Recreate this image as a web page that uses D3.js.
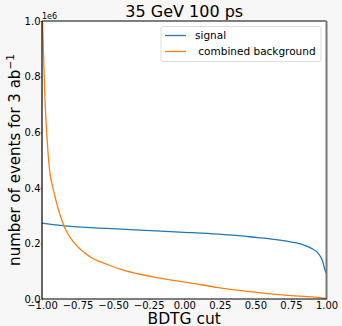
<!DOCTYPE html>
<html lang="en">
<head>
<meta charset="UTF-8">
<title>35 GeV 100 ps</title>
<script src="https://d3js.org/d3.v7.min.js"></script>
<style>
  body { margin: 0; background: #f7f7f7; }
  svg { display: block; font-family: "DejaVu Sans", sans-serif; }
</style>
</head>
<body>
<div id="chart"></div>
<script>
// BDTG cut values and event counts (x 1e6)
const signalX = [-1.0, -0.838, -0.545, -0.311, 0.0, 0.24, 0.474, 0.708, 0.825, 0.895, 0.942, 0.97, 0.989, 1.0];
const signalY = [0.273, 0.263, 0.254, 0.248, 0.240, 0.233, 0.223, 0.209, 0.197, 0.182, 0.164, 0.140, 0.105, 0.092];

const bkgX = [-0.996, -0.986, -0.979, -0.967, -0.95, -0.919, -0.9, -0.873, -0.838, -0.78, -0.663, -0.545, -0.428, -0.311, -0.194, -0.076, 0.04, 0.24, 0.474, 0.708, 0.989, 1.0];
const bkgY = [1.0, 0.82, 0.716, 0.6, 0.48, 0.39, 0.35, 0.302, 0.254, 0.206, 0.152, 0.125, 0.104, 0.089, 0.077, 0.067, 0.058, 0.041, 0.026, 0.014, 0.0025, 0.001];

const xTicks = [-1.0, -0.75, -0.5, -0.25, 0.0, 0.25, 0.5, 0.75, 1.0];
const yTicks = [0.0, 0.2, 0.4, 0.6, 0.8, 1.0];

const W = 342, H = 326;
const margin = {top: 21, right: 15.5, bottom: 27, left: 42};
const width = W - margin.left - margin.right,
      height = H - margin.top - margin.bottom;

const svg = d3.select("#chart").append("svg")
    .attr("width", W).attr("height", H);

const g = svg.append("g")
    .attr("transform", "translate(" + margin.left + "," + margin.top + ")");

const x = d3.scaleLinear().domain([-1, 1]).range([0, width]);
const y = d3.scaleLinear().domain([0, 1]).range([height, 0]);

g.append("rect").attr("width", width).attr("height", height).attr("fill", "#fff");

g.append("clipPath").attr("id", "clip")
  .append("rect").attr("width", width).attr("height", height);

const line = d3.line().curve(d3.curveMonotoneX).x(d => x(d[0])).y(d => y(d[1]));

g.append("path")
    .datum(d3.zip(signalX, signalY))
    .attr("clip-path", "url(#clip)")
    .attr("fill", "none").attr("stroke", "#1f77b4").attr("stroke-width", 1.3)
    .attr("d", line);

g.append("path")
    .datum(d3.zip(bkgX, bkgY))
    .attr("clip-path", "url(#clip)")
    .attr("fill", "none").attr("stroke", "#ff7f0e").attr("stroke-width", 1.3)
    .attr("d", line);

// axes with tiny grey ticks
const fmtX = d => d3.format(".2f")(d).replace("-", "\u2212");
const xAxis = g.append("g")
    .attr("transform", "translate(0," + height + ")")
    .call(d3.axisBottom(x).tickValues(xTicks).tickSize(1.5).tickPadding(1).tickFormat(fmtX));
xAxis.select(".domain").remove();
xAxis.selectAll("line").attr("stroke", "#999");
xAxis.selectAll("text").attr("font-size", 10).attr("fill", "#000").attr("font-family", "DejaVu Sans");

const yAxis = g.append("g")
    .call(d3.axisLeft(y).tickValues(yTicks).tickSize(1.5).tickPadding(0).tickFormat(d3.format(".1f")));
yAxis.select(".domain").remove();
yAxis.selectAll("line").attr("stroke", "#999");
yAxis.selectAll("text").attr("font-size", 10).attr("fill", "#000").attr("font-family", "DejaVu Sans");

// spines
g.append("line").attr("x1", 0).attr("x2", width).attr("y1", 0).attr("y2", 0)
    .attr("stroke", "#555").attr("stroke-width", 1.5);
g.append("line").attr("x1", width).attr("x2", width).attr("y1", 0).attr("y2", height)
    .attr("stroke", "#777").attr("stroke-width", 2);
g.append("line").attr("x1", 0).attr("x2", 0).attr("y1", 0).attr("y2", height)
    .attr("stroke", "#000").attr("stroke-width", 1.2);
g.append("line").attr("x1", 0).attr("x2", width).attr("y1", height).attr("y2", height)
    .attr("stroke", "#000").attr("stroke-width", 1.2);

// offset text
g.append("text").attr("x", 0).attr("y", -2).attr("font-size", 8).text("1e6");

// title
svg.append("text").attr("x", margin.left + width / 2).attr("y", 17)
    .attr("text-anchor", "middle").attr("font-size", 16).text("35 GeV 100 ps");

// x label
svg.append("text").attr("x", margin.left + width / 2).attr("y", 323.5)
    .attr("text-anchor", "middle").attr("font-size", 15.5).text("BDTG cut");

// y label
const yl = svg.append("text")
    .attr("transform", "translate(20," + (margin.top + height / 2) + ") rotate(-90)")
    .attr("text-anchor", "middle").attr("font-size", 15);
yl.append("tspan").text("number of events for 3 ab");
yl.append("tspan").attr("dy", -6).attr("font-size", 10.5).text("\u22121");

// legend
const legend = svg.append("g").attr("transform", "translate(161,26.5)");
legend.append("rect").attr("width", 160).attr("height", 35).attr("rx", 2)
    .attr("fill", "#fff").attr("fill-opacity", 0.8).attr("stroke", "#ddd");
const names = ["signal", " combined background"];
const colors = ["#1f77b4", "#ff7f0e"];
names.forEach((n, i) => {
  const yy = 9 + i * 16;
  legend.append("line").attr("x1", 4).attr("x2", 25).attr("y1", yy).attr("y2", yy)
      .attr("stroke", colors[i]).attr("stroke-width", 1.3);
  legend.append("text").attr("x", 34).attr("y", yy + 3.5).attr("font-size", 10.5)
      .attr("xml:space", "preserve").style("white-space", "pre").text(n);
});
</script>
</body>
</html>
